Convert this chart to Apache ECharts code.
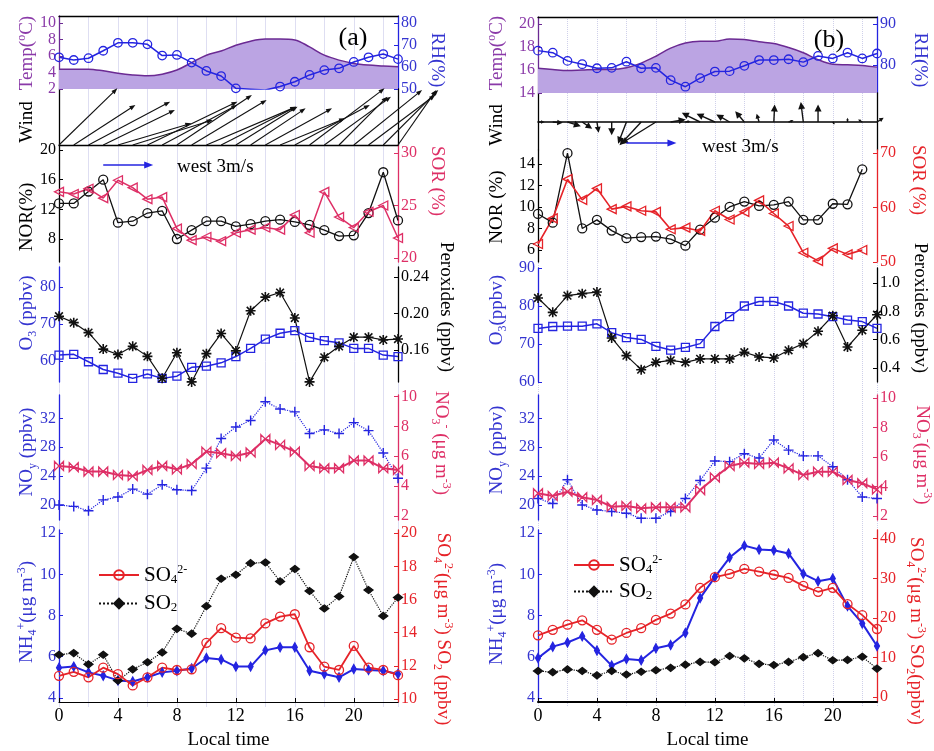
<!DOCTYPE html>
<html><head><meta charset="utf-8">
<script src="https://cdn.jsdelivr.net/npm/echarts@6/dist/echarts.min.js"></script>
<style>html,body{margin:0;padding:0;background:#fff}#c{width:934px;height:751px}</style>
</head><body><div id="c"></div>
<script>
// ---------------- data ----------------
const HOURS = [0,1,2,3,4,5,6,7,8,9,10,11,12,13,14,15,16,17,18,19,20,21,22,23];
const X_TICKS = [0,4,8,12,16,20];

// (a)
const TEMP_A = [4.4,4.4,4.4,4.2,3.9,3.7,3.6,3.8,4.3,5.2,6.1,6.6,7.3,7.8,8.05,8.05,7.95,7.1,6.1,5.5,5.1,4.9,4.8,4.7];
const RH_A   = [64.4,63.2,64.0,67.4,71.0,71.0,70.3,65.2,65.5,62.0,58.2,55.9,50.3,49.9,49.5,51.1,53.3,56.4,58.6,59.4,62.3,64.4,65.9,63.6];
const WIND_U_A = [3.5,3.7,4.9,4.3,4.4,4.8,5.4,4.5,4.5,4.5,5.4,4.5,3.7,3.3,4.0,3.9,4.5,4.5,4.0,2.9,4.1,4.0,3.3,2.3];
const WIND_V_A = [3.4,2.4,2.6,2.1,1.3,1.5,2.6,2.4,3.0,2.7,2.3,2.3,2.3,2.2,2.2,1.6,2.4,3.4,2.9,2.9,3.3,3.0,3.3,3.3];
const NOR_A  = [12.8,12.8,14.4,16.0,10.2,10.4,11.5,11.8,8.0,9.2,10.4,10.4,9.7,10.0,10.4,10.6,10.3,9.9,9.2,8.4,8.5,11.5,17.0,10.5];
const SOR_A  = [26.3,26.1,26.6,25.7,27.4,26.7,25.6,25.8,22.8,21.7,22.0,21.6,22.4,22.7,22.9,22.7,24.1,22.4,26.3,23.9,22.9,24.4,25.0,21.9];
const O3_A   = [61.6,61.8,59.8,57.7,56.7,55.3,56.5,55.3,55.9,58.3,58.6,59.5,61.2,63.4,65.9,67.5,68.2,66.4,65.5,64.9,63.4,63.4,61.6,61.2];
const PER_A  = [0.197,0.190,0.179,0.161,0.155,0.164,0.153,0.129,0.157,0.125,0.156,0.178,0.159,0.203,0.218,0.223,0.195,0.125,0.152,0.164,0.174,0.174,0.171,0.172];
const NOY_A  = [20.0,19.8,19.2,20.7,21.1,22.2,21.5,22.8,22.1,22.0,25.1,29.2,30.8,31.7,34.3,33.3,32.9,29.9,30.4,29.9,31.4,30.3,27.2,23.7];
const NO3_A  = [5.35,5.26,4.97,4.97,4.74,4.67,5.08,5.35,5.12,5.48,6.31,6.20,6.02,6.25,7.15,6.76,6.31,5.35,5.19,5.19,5.71,5.71,5.19,5.08];
const NH4_A  = [5.47,5.52,5.24,5.08,4.85,4.80,5.0,5.24,5.32,5.43,5.94,5.87,5.52,5.52,6.31,6.46,6.46,5.32,5.16,5.0,5.40,5.36,5.32,5.16];
const SO4_A  = [11.40,11.64,11.31,11.89,11.50,10.82,11.31,11.89,11.75,11.79,13.39,14.27,13.70,13.65,14.56,14.97,15.11,13.12,11.95,11.75,13.20,11.89,11.75,11.44];
const SO2_A  = [12.67,12.77,12.09,12.67,11.11,11.79,12.22,12.81,14.23,13.94,15.60,17.25,17.49,18.19,18.23,17.09,17.84,16.51,15.46,16.18,18.56,16.57,15.01,16.12];

// (b)
const TEMP_B = [16.15,16.05,15.95,16.0,16.05,16.05,16.2,16.6,17.2,17.9,18.35,18.5,18.5,18.7,18.65,18.45,18.3,17.95,17.5,16.9,16.5,16.45,16.4,16.25];
const RH_B   = [83.5,83.0,81.0,80.2,79.2,79.3,80.8,79.2,79.3,76.3,74.7,76.8,78.4,78.5,79.8,81.2,81.2,81.4,80.7,82.2,81.6,83.0,81.6,82.8];
const WIND_U_B = [0.4,0.6,0.8,0.6,0.1,0.0,-0.5,-1.3,-2.1,0.9,0.3,-1.1,-1.1,-0.8,-0.55,-0.15,0.05,0.3,-0.15,0.0,0.1,0.0,-0.25,0.4];
const WIND_V_B = [0.0,-0.05,-0.25,-0.4,-0.65,-0.8,-1.3,-1.4,-1.3,0.15,0.05,0.55,0.5,0.45,0.65,0.5,1.05,0.1,1.2,1.05,-0.15,0.25,0.15,0.25];
const NOR_B  = [9.35,8.54,15.0,8.0,8.8,7.8,7.1,7.2,7.25,7.0,6.4,7.9,9.0,10.0,10.5,10.1,10.2,10.5,8.8,8.8,10.3,10.25,13.5,null];
const SOR_B  = [53.3,58.0,65.2,61.4,63.5,59.7,60.2,59.4,59.2,56.0,56.3,55.7,59.4,57.8,59.2,61.3,58.9,56.6,51.7,50.2,52.5,51.4,52.2,null];
const O3_B   = [74.1,74.6,74.7,74.7,75.3,73.0,71.7,71.2,69.4,68.4,69.1,70.1,74.6,77.2,80.0,81.2,81.2,80.0,78.1,77.9,77.2,76.3,75.9,74.1];
const PER_B  = [0.894,0.793,0.911,0.925,0.936,0.612,0.487,0.388,0.440,0.454,0.440,0.464,0.464,0.464,0.511,0.478,0.471,0.525,0.572,0.659,0.769,0.548,0.666,0.776];
const NOY_B  = [20.9,20.2,23.5,20.0,19.3,19.1,18.85,18.16,18.16,19.1,20.9,23.4,26.1,26.0,27.1,26.5,29.0,27.6,26.8,26.8,25.3,23.5,21.1,20.9];
const NO3_B  = [3.55,3.37,3.66,3.28,3.10,2.64,2.69,2.53,2.60,2.60,2.60,3.77,4.63,5.40,5.63,5.54,5.63,5.24,4.79,5.02,5.02,4.45,4.23,3.82];
const NH4_B  = [5.94,6.49,6.69,6.99,6.30,5.57,5.89,5.83,6.41,6.57,7.15,8.85,9.87,10.82,11.40,11.21,11.18,11.02,10.03,9.67,9.80,8.46,7.62,6.52];
const SO4_B  = [15.6,17.0,18.3,19.4,17.0,14.5,16.2,17.4,19.5,21.1,23.4,27.6,30.3,31.1,32.4,31.7,30.9,30.1,28.1,26.6,27.6,23.5,20.7,17.2];
const SO2_B  = [6.6,6.3,7.0,6.6,5.5,6.6,5.7,6.4,6.8,7.4,8.2,8.9,8.8,10.4,9.8,8.4,8.1,8.9,10.1,11.1,9.3,9.4,10.2,7.2];

// reference (key) arrows: [hour, y, u, v]
const KEY_ARROW_A = [3, -1.2, 3, 0];
const KEY_ARROW_B = [6, -1.26, 3, 0];

// ---------------- styles ----------------
const SERIF = '"Liberation Serif","Times New Roman",serif';
const PURPLE = '#6b2a93', PURPLE_FILL = '#bba4e3', PURPLE_TXT = '#8a3aa8';
const BLUE = '#2424e0', BLUE_TXT = '#3434d0';
const CRIMSON = '#de2f66', RED = '#e62329', BLACK = '#111';

const ASTERISK = 'path://M4.2,0L5.8,0L5.8,10L4.2,10Z M0,4.2L10,4.2L10,5.8L0,5.8Z M0.6,1.7L1.7,0.6L9.4,8.3L8.3,9.4Z M8.3,0.6L9.4,1.7L1.7,9.4L0.6,8.3Z';
const PLUS = 'path://M4.3,0L5.7,0L5.7,10L4.3,10Z M0,4.3L10,4.3L10,5.7L0,5.7Z';
const BOWTIE = 'path://M0,0L5,5L0,10Z M10,0L5,5L10,10Z';

const COLS = [{left:59, width:339}, {left:538, width:339}];
const PANELS = [
  [[16,89],[89,145],[145,262],[267,382],[395,520],[530,707]],
  [[17,93],[93,150],[150,262],[268,382],[395,520],[530,707]]
];

const grids = [];
PANELS.forEach((col, c) => col.forEach(p => grids.push({left:COLS[c].left, width:COLS[c].width, top:p[0], height:p[1]-p[0]})));
grids.push({left:COLS[0].left, width:COLS[0].width, top:16, height:691});
grids.push({left:COLS[1].left, width:COLS[1].width, top:17, height:690});

function xAx(g, o) {
  return Object.assign({type:'value', gridIndex:g, min:0, max:23,
    axisLine:{show:false, onZero:false}, axisTick:{show:false}, axisLabel:{show:false}, splitLine:{show:false}}, o || {});
}
const xAxes = [];
for (let c = 0; c < 2; c++) {
  const b = c * 6;
  xAxes.push(xAx(b, {position:'top', axisLine:{show:true, onZero:false, lineStyle:{color:'#000', width:1.3}}}));
  xAxes.push(xAx(b+1, {axisLine:{show:true, onZero:true, lineStyle:{color:'#000', width:c ? 1.6 : 1.3}}}));
  xAxes.push(xAx(b+2)); xAxes.push(xAx(b+3)); xAxes.push(xAx(b+4));
  xAxes.push(xAx(b+5, {
    axisLine:{show:true, onZero:false, lineStyle:{color:'#000', width:c ? 2 : 1.2}},
    axisTick:{show:true, inside:true, length:4, customValues:X_TICKS, lineStyle:{color:'#000'}},
    axisLabel:{show:true, customValues:X_TICKS, color:'#000', fontFamily:SERIF, fontSize:18, margin:5, showMinLabel:true, showMaxLabel:true},
    name:'Local time', nameLocation:'middle', nameGap:29,
    nameTextStyle:{color:'#000', fontFamily:SERIF, fontSize:19}
  }));
}
xAxes.push(xAx(12, {interval:2, splitLine:{show:true, lineStyle:{color:'#dedef2', width:1}}}));
xAxes.push(xAx(13, {interval:2, splitLine:{show:true, lineStyle:{color:'#cfd0ea', width:1, type:'dotted'}}}));

function yAx(g, pos, min, max, lineColor, labels, labelColor, fmt) {
  const o = {type:'value', gridIndex:g, position:pos, min, max,
    axisLine:{show:true, onZero:false, lineStyle:{color:lineColor, width:1.3}},
    axisTick:{show:!!labels, inside:true, length:4, lineStyle:{color:lineColor}},
    axisLabel:{show:!!labels, color:labelColor, fontFamily:SERIF, fontSize:16, lineHeight:14, margin:3,
      showMinLabel:true, showMaxLabel:true, hideOverlap:false},
    splitLine:{show:false}};
  if (labels) { o.axisTick.customValues = labels; o.axisLabel.customValues = labels; }
  if (fmt) o.axisLabel.formatter = fmt;
  return o;
}
const f2 = v => v.toFixed(2), f1 = v => v.toFixed(1);
const yAxes = [
  // (a)
  yAx(0,'left',2,10.85,PURPLE,[2,4,6,8,10],PURPLE_TXT),
  yAx(0,'right',50,83.2,BLUE,[50,60,70,80],BLUE_TXT),
  yAx(1,'left',0,3.36,'#000'),
  yAx(1,'right',0,3.36,'#000'),
  yAx(2,'left',4.90,20.67,'#000',[8,12,16,20],'#000'),
  yAx(2,'right',19.62,30.76,CRIMSON,[20,25,30],CRIMSON),
  yAx(3,'left',54.32,85.41,BLUE,[60,70,80],BLUE_TXT),
  yAx(3,'right',0.1249,0.2510,'#000',[0.16,0.20,0.24],'#000',f2),
  yAx(4,'left',17.92,35.23,BLUE,[20,24,28,32],BLUE_TXT),
  yAx(4,'right',1.72,10.11,CRIMSON,[2,4,6,8,10],CRIMSON),
  yAx(5,'left',3.80,12.16,BLUE,[4,6,8,10,12],BLUE_TXT),
  yAx(5,'right',9.82,20.19,RED,[10,12,14,16,18,20],RED),
  // (b)
  yAx(6,'left',14,20.61,PURPLE,[14,16,18,20],PURPLE_TXT),
  yAx(6,'right',73.17,91.7,BLUE,[80,90],BLUE_TXT),
  yAx(7,'left',-1.68,1.74,'#000'),
  yAx(7,'right',-1.68,1.74,'#000'),
  yAx(8,'left',4.88,15.3,'#000',[6,8,10,12,14],'#000'),
  yAx(8,'right',50,70.55,RED,[50,60,70],RED),
  yAx(9,'left',60,90,BLUE,[60,70,80,90],BLUE_TXT),
  yAx(9,'right',0.301,1.106,'#000',[0.4,0.6,0.8,1.0],'#000',f1),
  yAx(10,'left',17.92,35.23,BLUE,[20,24,28,32],BLUE_TXT),
  yAx(10,'right',1.74,10.22,CRIMSON,[2,4,6,8,10],CRIMSON),
  yAx(11,'left',3.80,12.16,BLUE,[4,6,8,10,12],BLUE_TXT),
  yAx(11,'right',-1.23,42.2,RED,[0,10,20,30,40],RED),
  {type:'value', gridIndex:12, min:0, max:1, show:false},
  {type:'value', gridIndex:13, min:0, max:1, show:false}
];

function pairs(arr) { return HOURS.map((h, i) => [h, arr[i]]); }
function line(name, xi, yi, arr, o) {
  return {
    type:'line', name, xAxisIndex:xi, yAxisIndex:yi, data:pairs(arr),
    symbol:o.symbol, symbolSize:o.size || 9, symbolRotate:o.rotate || 0,
    showAllSymbol:true, connectNulls:false, smooth:o.smooth || false,
    lineStyle:{color:o.color, width:o.width || 1.3, type:o.type || 'solid'},
    itemStyle:{color:o.fill || 'rgba(0,0,0,0)', borderColor:o.color, borderWidth:o.bw === undefined ? 1.3 : o.bw},
    areaStyle:o.area, z:o.z || 3, silent:true
  };
}
function arrowRenderer(color, lw, head, ratio) {
  return function (params, api) {
    const p0 = api.coord([api.value(0), api.value(1)]);
    const k = api.size([0, 1])[1];
    const dx = api.value(2) * k, dy = -api.value(3) * k;
    const L = Math.sqrt(dx * dx + dy * dy);
    if (L < 0.5) return {type:'group', children:[]};
    const ux = dx / L, uy = dy / L;
    const hl = Math.min(head, L * 0.55), hw = hl * ratio;
    const tip = [p0[0] + dx, p0[1] + dy];
    const base = [tip[0] - ux * hl, tip[1] - uy * hl];
    return {type:'group', children:[
      {type:'line', shape:{x1:p0[0], y1:p0[1], x2:base[0] + ux, y2:base[1] + uy}, style:{stroke:color, lineWidth:lw}},
      {type:'polygon', shape:{points:[tip, [base[0] - uy * hw, base[1] + ux * hw], [base[0] + uy * hw, base[1] - ux * hw]]}, style:{fill:color}}
    ]};
  };
}
function wind(xi, yi, U, V, color, lw, head, ratio) {
  return {type:'custom', xAxisIndex:xi, yAxisIndex:yi, clip:false, z:4, silent:true,
    data:HOURS.map((h, i) => [h, 0, U[i], V[i]]), renderItem:arrowRenderer(color, lw, head, ratio)};
}
function keyArrow(xi, yi, k) {
  return {type:'custom', xAxisIndex:xi, yAxisIndex:yi, clip:false, z:4, silent:true,
    data:[k], renderItem:arrowRenderer(BLUE, 1.6, 9, 0.4)};
}

const series = [
  // (a)
  line('Temp', 0, 0, TEMP_A, {symbol:'none', color:PURPLE, width:1.5, smooth:0.35, area:{color:PURPLE_FILL, opacity:1, origin:'start'}, z:2}),
  line('RH', 0, 1, RH_A, {symbol:'circle', color:BLUE, width:1.5, size:8.5}),
  wind(1, 2, WIND_U_A, WIND_V_A, '#111', 1.1, 6, 0.38),
  keyArrow(1, 2, KEY_ARROW_A),
  line('NOR', 2, 4, NOR_A, {symbol:'circle', color:BLACK, width:1.3, size:9}),
  line('SOR', 2, 5, SOR_A, {symbol:'triangle', rotate:90, color:CRIMSON, width:1.5, size:9}),
  line('O3', 3, 6, O3_A, {symbol:'rect', color:BLUE, width:1.5, size:8}),
  line('Peroxides', 3, 7, PER_A, {symbol:ASTERISK, color:BLACK, fill:BLACK, bw:0, width:1.2, size:10}),
  line('NOy', 4, 8, NOY_A, {symbol:PLUS, color:BLUE, fill:BLUE, bw:0, width:1.2, type:'dotted', size:10}),
  line('NO3', 4, 9, NO3_A, {symbol:BOWTIE, color:CRIMSON, width:2, size:9}),
  line('NH4', 5, 10, NH4_A, {symbol:'diamond', color:BLUE, fill:BLUE, width:2, size:[5,9]}),
  line('SO2', 5, 11, SO2_A, {symbol:'diamond', color:BLACK, fill:BLACK, width:1.2, type:'dotted', size:[9,7]}),
  line('SO4', 5, 11, SO4_A, {symbol:'circle', color:RED, width:1.8, size:9}),
  // (b)
  line('Temp', 6, 12, TEMP_B, {symbol:'none', color:PURPLE, width:1.5, smooth:0.35, area:{color:PURPLE_FILL, opacity:1, origin:'start'}, z:2}),
  line('RH', 6, 13, RH_B, {symbol:'circle', color:BLUE, width:1.5, size:8.5}),
  wind(7, 14, WIND_U_B, WIND_V_B, '#111', 1.4, 7, 0.5),
  keyArrow(7, 14, KEY_ARROW_B),
  line('NOR', 8, 16, NOR_B, {symbol:'circle', color:BLACK, width:1.3, size:9}),
  line('SOR', 8, 17, SOR_B, {symbol:'triangle', rotate:90, color:RED, width:1.6, size:9}),
  line('O3', 9, 18, O3_B, {symbol:'rect', color:BLUE, width:1.5, size:8}),
  line('Peroxides', 9, 19, PER_B, {symbol:ASTERISK, color:BLACK, fill:BLACK, bw:0, width:1.2, size:10}),
  line('NOy', 10, 20, NOY_B, {symbol:PLUS, color:BLUE, fill:BLUE, bw:0, width:1.2, type:'dotted', size:10}),
  line('NO3', 10, 21, NO3_B, {symbol:BOWTIE, color:CRIMSON, width:2, size:9}),
  line('NH4', 11, 22, NH4_B, {symbol:'diamond', color:BLUE, fill:BLUE, width:2, size:[5,9]}),
  line('SO2', 11, 23, SO2_B, {symbol:'diamond', color:BLACK, fill:BLACK, width:1.2, type:'dotted', size:[9,7]}),
  line('SO4', 11, 23, SO4_B, {symbol:'circle', color:RED, width:1.8, size:9})
];

const RICH = {
  n:{fontFamily:SERIF, fontSize:19, lineHeight:23},
  sub:{fontFamily:SERIF, fontSize:12, lineHeight:12, verticalAlign:'bottom'},
  sup:{fontFamily:SERIF, fontSize:12, lineHeight:12, verticalAlign:'top'}
};
const LEG_RICH = {
  n:{fontFamily:SERIF, fontSize:21, lineHeight:22, color:'#000'},
  sub:{fontFamily:SERIF, fontSize:13, lineHeight:12, verticalAlign:'bottom', color:'#000'},
  sup:{fontFamily:SERIF, fontSize:12, lineHeight:12, verticalAlign:'top', color:'#000'}
};
function txt(t, x, y, rot, color, size, align) {
  const rich = JSON.parse(JSON.stringify(RICH));
  if (size) { rich.n.fontSize = size; rich.n.lineHeight = size + 4; }
  return {type:'text', x, y, rotation:rot * Math.PI / 180, silent:true, z:10,
    style:{text:t, fill:color, rich, align:align || 'center', verticalAlign:'middle', font:(size || 19) + 'px ' + SERIF}};
}
const NAME_TEMP = '{n|Temp(}{sup|o}{n|C)}';
const NAME_O3 = '{n|O}{sub|3}{n| (ppbv)}';
const NAME_NOY = '{n|NO}{sub|y}{n| (ppbv)}';
const NAME_NH4 = '{n|NH}{sub|4}{sup|+}{n|(μg m}{sup|-3}{n|)}';
const NAME_NO3 = '{n|NO}{sub|3}{sup|-}{n| (μg m}{sup|-3}{n|)}';
const NAME_SO = '{n|SO}{sub|4}{sup|2-}{n|(μg m}{sup|-3}{n|) SO}{sub|2}{n| (ppbv)}';

const graphic = [
  txt(NAME_TEMP, 27, 53, 90, PURPLE_TXT),
  txt('{n|Wind}', 27, 122, 90, '#000'),
  txt('{n|NOR(%)}', 27, 217, 90, '#000'),
  txt(NAME_O3, 27, 313, 90, BLUE_TXT),
  txt(NAME_NOY, 27, 452, 90, BLUE_TXT),
  txt(NAME_NH4, 27, 612, 90, BLUE_TXT),
  txt('{n|RH(%)}', 437, 60, -90, BLUE_TXT),
  txt('{n|SOR (%)}', 437, 181, -90, CRIMSON),
  txt('{n|Peroxides (ppbv)}', 446, 307, -90, '#000'),
  txt(NAME_NO3, 441, 443, -90, CRIMSON),
  txt(NAME_SO, 443, 629, -90, RED),
  txt('{n|(a)}', 353, 38, 0, '#000', 26),
  txt('{n|west 3m/s}', 177, 167, 0, '#000', 19, 'left'),

  txt(NAME_TEMP, 497, 53, 90, PURPLE_TXT),
  txt('{n|Wind}', 497, 125, 90, '#000'),
  txt('{n|NOR (%)}', 497, 207, 90, '#000'),
  txt('{n|O}{sub|3}{n|(ppbv)}', 497, 310, 90, BLUE_TXT),
  txt(NAME_NOY, 497, 450, 90, BLUE_TXT),
  txt(NAME_NH4, 497, 614, 90, BLUE_TXT),
  txt('{n|RH(%)}', 920, 60, -90, BLUE_TXT),
  txt('{n|SOR (%)}', 918, 180, -90, RED),
  txt('{n|Peroxides (ppbv)}', 920, 308, -90, '#000'),
  txt('{n|NO}{sub|3}{sup|-}{n|(μg m}{sup|-3}{n|)}', 922, 455, -90, CRIMSON),
  txt('{n|SO}{sub|4}{sup|2-}{n|(μg m}{sup|-3}{n|) SO}{sub|2}{n|(ppbv)}', 916, 631, -90, RED),
  txt('{n|(b)}', 829, 40, 0, '#000', 26),
  txt('{n|west 3m/s}', 702, 147, 0, '#000', 19, 'left')
];

const legFmt = n => n === 'SO4' ? '{n|SO}{sub|4}{sup|2-}' : '{n|SO}{sub|2}';
function legend(left, top, gap) {
  return {left, top, orient:'vertical', itemGap:gap, itemWidth:40, itemHeight:12,
    data:['SO4','SO2'], formatter:legFmt, selectedMode:false,
    textStyle:{color:'#000', fontFamily:SERIF, fontSize:21, rich:LEG_RICH}};
}

const chart = echarts.init(document.getElementById('c'), null, {renderer:'canvas'});
chart.setOption({
  animation:false,
  backgroundColor:'#fff',
  grid:grids,
  xAxis:xAxes,
  yAxis:yAxes,
  legend:[legend(93, 559, 7), legend(568, 549, 5)],
  graphic,
  series
});
</script></body></html>
